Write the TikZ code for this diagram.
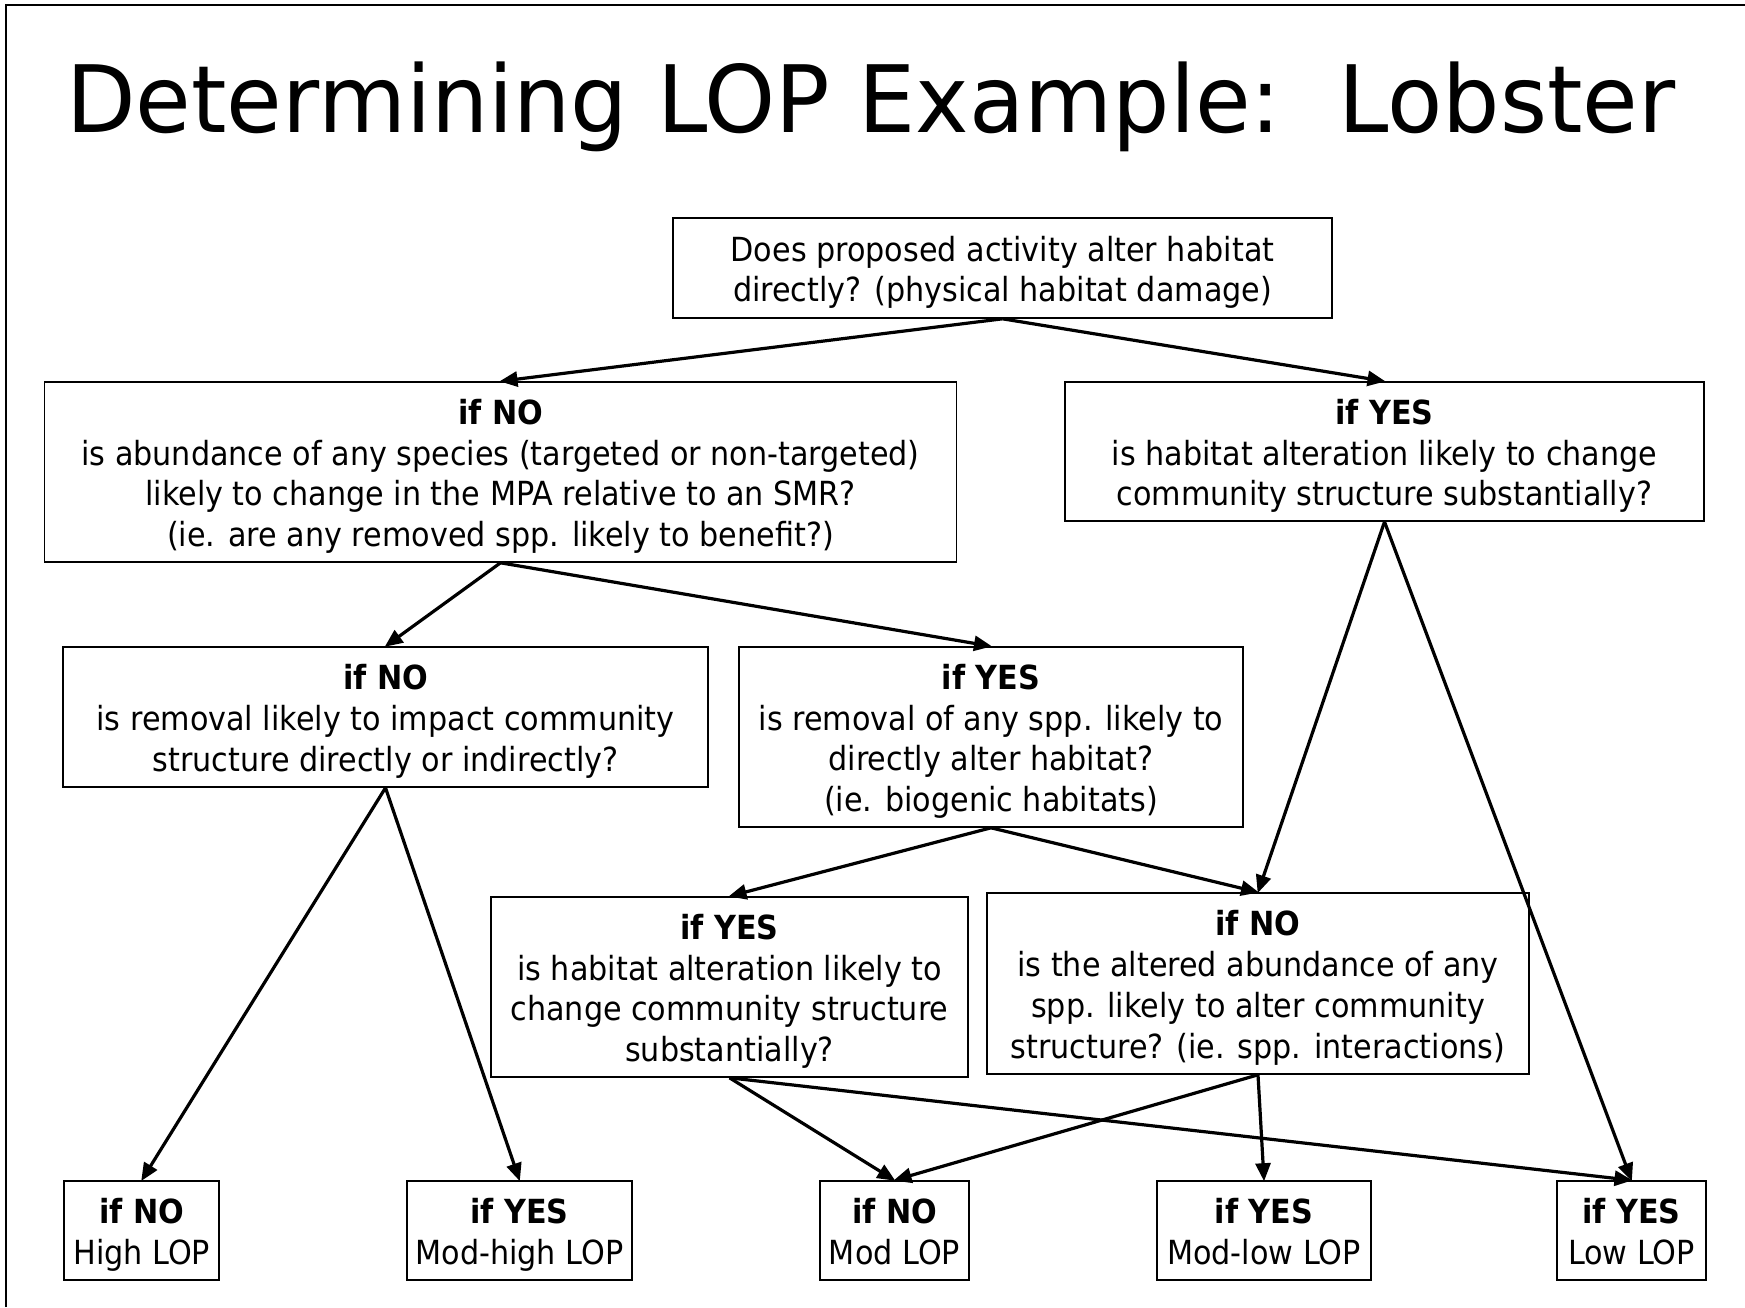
\documentclass[tikz,border=0pt]{standalone}
\usepackage{fontspec}
\setmainfont{DejaVu Sans}[FakeStretch=0.91]
\newfontfamily\titlefont{DejaVu Sans}[FakeStretch=0.972]
\usetikzlibrary{arrows.meta}
\newcommand\lopstrut{\rule{0pt}{34pt}}
\newcommand\lopdp{\rule[-7.8pt]{0pt}{7.8pt}}
\newcommand\lophd[1]{\lopstrut\textbf{#1}}
\begin{document}
\begin{tikzpicture}[x=1pt,y=-1pt,
  box/.style={draw,line width=1.6pt,align=center,inner sep=0pt,font=\fontsize{33.2}{40.8}\selectfont},
  arr/.style={line width=3.2pt,-{Triangle[length=18pt,width=15pt]},shorten >=-1pt}]
\useasboundingbox (0,0) rectangle (1745,1307);
\draw[line width=2.5pt] (6,1307) -- (6,5) -- (1745,5);
\node[anchor=base west,inner sep=0pt,font=\titlefont\fontsize{93}{100}\selectfont] (title) at (66,132) {Determining LOP Example:\ \ Lobster};
\node[box,minimum width=659pt,minimum height=100pt] (top) at (1002.5,268) {\lopstrut Does proposed activity alter habitat\\directly? (physical habitat damage)};
\node[box,minimum width=912pt,minimum height=180pt] (no1) at (500.5,472) {\lophd{if NO}\\is abundance of any species (targeted or non-targeted)\\likely to change in the MPA relative to an SMR?\\(ie. are any removed spp. likely to benefit?)};
\node[box,minimum width=639pt,minimum height=139pt] (yes1) at (1384.5,451.5) {\lophd{if YES}\\is habitat alteration likely to change\\community structure substantially?};
\node[box,minimum width=645pt,minimum height=140pt] (no2) at (385.5,717) {\lophd{if NO}\\is removal likely to impact community\\structure directly or indirectly?};
\node[box,minimum width=504pt,minimum height=180pt] (yes2) at (991,737) {\lophd{if YES}\\is removal of any spp. likely to\\directly alter habitat?\\(ie. biogenic habitats)};
\node[box,minimum width=477pt,minimum height=180pt] (yes3) at (729.5,987) {\lophd{if YES}\\is habitat alteration likely to\\change community structure\\substantially?};
\node[box,minimum width=542pt,minimum height=181pt] (no3) at (1258,983.5) {\lophd{if NO}\\is the altered abundance of any\\spp. likely to alter community\\structure? (ie. spp. interactions)};
\node[box,minimum width=155pt,minimum height=99pt] (b1) at (141.75,1230.5) {\lophd{if NO}\\High LOP\lopdp};
\node[box,minimum width=225pt,minimum height=99pt] (b2) at (519.5,1230.5) {\lophd{if YES}\\Mod-high LOP\lopdp};
\node[box,minimum width=149pt,minimum height=99pt] (b3) at (894.5,1230.5) {\lophd{if NO}\\Mod LOP\lopdp};
\node[box,minimum width=214pt,minimum height=99pt] (b4) at (1264,1230.5) {\lophd{if YES}\\Mod-low LOP\lopdp};
\node[box,minimum width=149pt,minimum height=99pt] (b5) at (1631.5,1230.5) {\lophd{if YES}\\Low LOP\lopdp};
\draw[arr] (top.south) -- (no1.north);
\draw[arr] (top.south) -- (yes1.north);
\draw[arr] (no1.south) -- (no2.north);
\draw[arr] (no1.south) -- (yes2.north);
\draw[arr] (yes1.south) -- (no3.north);
\draw[arr] (yes1.south) -- (b5.north);
\draw[arr] (no2.south) -- (b1.north);
\draw[arr] (no2.south) -- (b2.north);
\draw[arr] (yes2.south) -- (yes3.north);
\draw[arr] (yes2.south) -- (no3.north);
\draw[arr] (yes3.south) -- (b3.north);
\draw[arr] (yes3.south) -- (b5.north);
\draw[arr] (no3.south) -- (b3.north);
\draw[arr] (no3.south) -- (b4.north);
\end{tikzpicture}
\end{document}
